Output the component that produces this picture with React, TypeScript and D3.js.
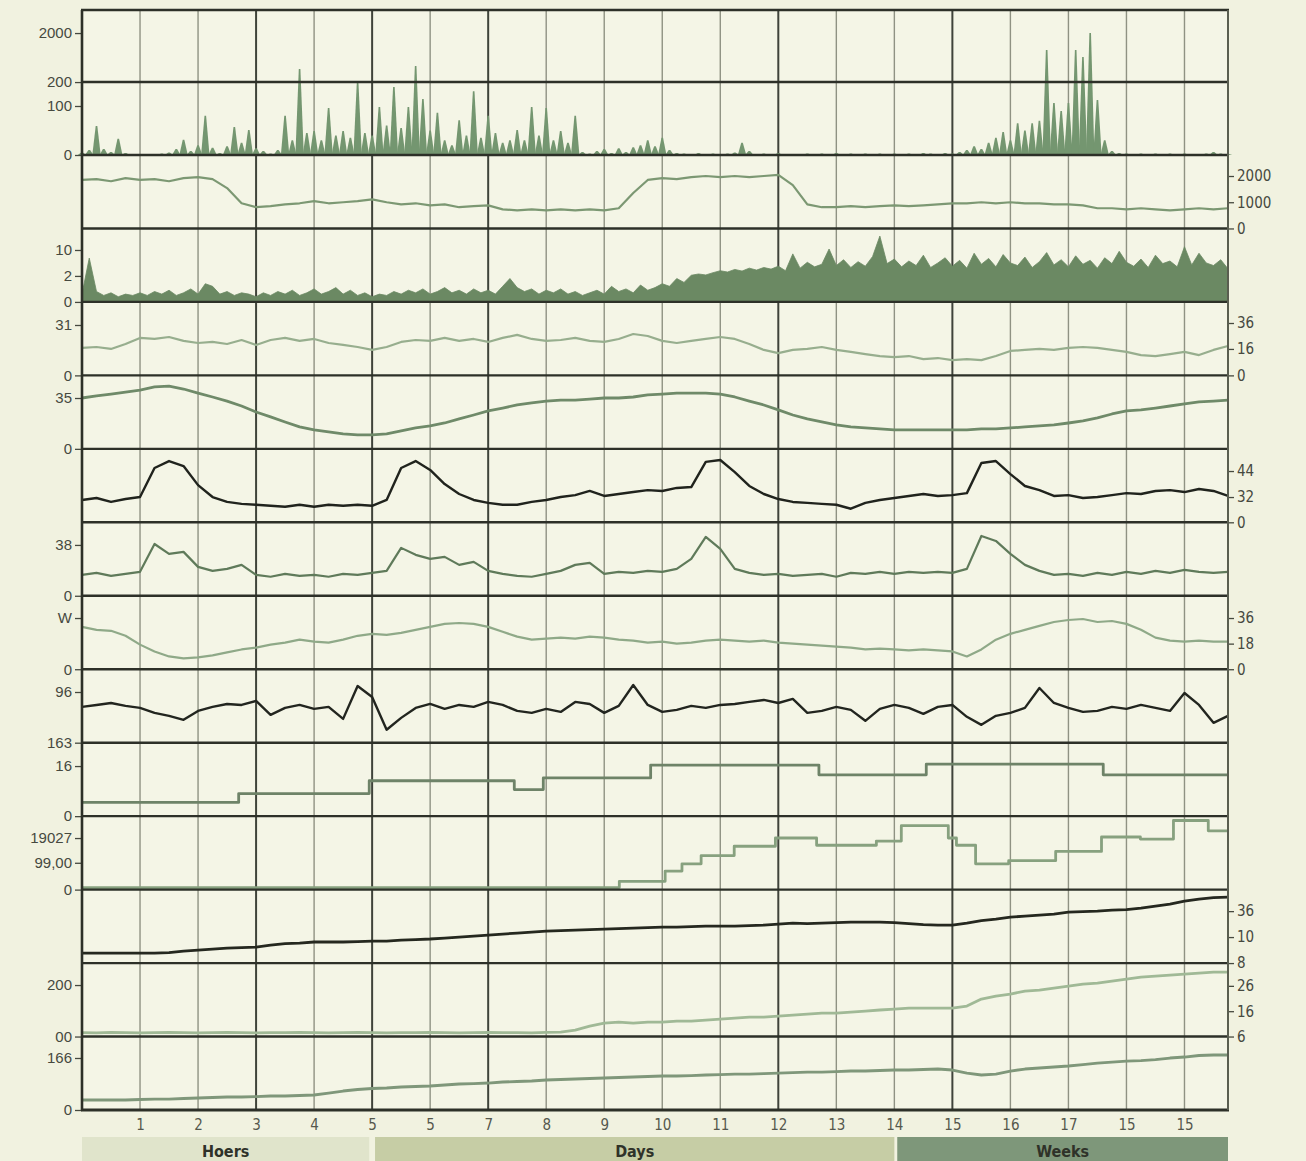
import React, { useEffect, useRef } from 'react';
import * as d3 from 'd3';

// ---- time axis -------------------------------------------------------------
const xTicks = [1, 2, 3, 4, 5, 6, 7, 8, 9, 10, 11, 12, 13, 14, 15, 16, 17, 18, 19];
const xTickLabels = ['1', '2', '3', '4', '5', '5', '7', '8', '9', '10', '11', '12', '13', '14', '15', '16', '17', '15', '15'];
const majorTicks = [3, 5, 7, 12, 15];
const timeEnd = 19.75;

const bandLabels = ['Hoers', 'Days', 'Weeks'];
const bandStarts = [0, 5.05, 14.05];
const bandEnds = [4.95, 14, 19.75];

// sampling intervals of the recorded series
const fineStep = 0.125;
const coarseStep = 0.25;

// ---- series ----------------------------------------------------------------
const burstVolume = [
  5, 10, 59, 12, 6, 33, 4, 2, 2, 1, 2, 3, 5, 12, 31, 8,
  20, 80, 15, 4, 18, 57, 25, 51, 14, 8, 3, 10, 80, 30, 678, 45,
  49, 30, 96, 40, 49, 35, 200, 45, 40, 98, 60, 179, 55, 98, 788, 129,
  50, 86, 30, 20, 71, 40, 162, 35, 80, 45, 25, 30, 51, 30, 98, 40,
  96, 30, 49, 25, 80, 6, 3, 8, 12, 4, 14, 6, 16, 20, 30, 18,
  35, 10, 4, 3, 2, 4, 2, 3, 2, 3, 5, 25, 8, 2, 3, 2,
  4, 2, 1, 2, 3, 2, 3, 2, 4, 2, 3, 2, 3, 2, 3, 2,
  3, 2, 3, 2, 4, 3, 2, 4, 3, 6, 10, 18, 12, 25, 35, 47,
  30, 65, 50, 65, 70, 1375, 112, 90, 112, 1375, 1118, 2000, 125, 30, 8, 4,
  3, 2, 3, 2, 3, 2, 3, 2, 3, 2, 2, 3, 6, 3, 2,
];

const baseLevel = [
  1850, 1880, 1800, 1920, 1850, 1880, 1800, 1920, 1960, 1880,
  1540, 960, 810, 850, 920, 960, 1040, 960, 1000, 1040,
  1110, 1000, 920, 960, 880, 920, 810, 850, 880, 730,
  690, 730, 690, 730, 690, 730, 690, 770, 1350, 1850,
  1920, 1880, 1960, 2000, 1960, 2000, 1960, 2000, 2040, 1650,
  920, 810, 810, 850, 810, 850, 880, 850, 880, 920,
  960, 960, 1000, 960, 1000, 960, 960, 920, 920, 880,
  770, 770, 730, 770, 730, 690, 730, 770, 730, 770,
];

const activity = [
  0.6, 7.5, 0.8, 0.5, 0.7, 0.4, 0.6, 0.5, 0.7, 0.5, 0.8, 0.6, 0.9, 0.5, 0.7, 1.0,
  0.6, 1.4, 1.2, 0.6, 0.8, 0.5, 0.7, 0.6, 0.4, 0.7, 0.5, 0.8, 0.6, 0.9, 0.5, 0.7,
  1.0, 0.6, 0.8, 1.1, 0.6, 0.9, 0.5, 0.7, 0.4, 0.6, 0.5, 0.8, 0.6, 0.9, 0.7, 1.0,
  0.6, 0.8, 1.1, 0.7, 0.9, 0.6, 1.0, 0.7, 0.9, 0.6, 1.2, 1.8, 1.1, 0.8, 1.0, 0.6,
  0.9, 0.7, 1.0, 0.6, 0.8, 0.5, 0.7, 0.9, 0.6, 1.2, 0.8, 1.0, 0.7, 1.3, 0.9, 1.1,
  1.4, 1.2, 1.8, 1.5, 2.2, 2.6, 2.3, 3.0, 3.6, 3.2, 4.0, 3.5, 4.4, 3.8, 4.6, 4.1,
  5.0, 3.6, 8.8, 4.4, 6.2, 4.8, 5.6, 10.3, 5.2, 7.0, 4.6, 6.4, 5.0, 8.0, 14.3, 5.8,
  7.2, 4.8, 6.6, 5.2, 8.4, 4.6, 6.0, 7.6, 5.0, 6.8, 4.4, 9.0, 5.6, 7.4, 4.8, 8.6,
  6.0, 5.2, 7.8, 4.6, 6.4, 9.2, 5.4, 7.0, 4.8, 8.2, 5.6, 6.8, 4.4, 7.6, 5.8, 9.6,
  6.2, 5.0, 7.2, 4.6, 8.4, 5.8, 6.6, 4.8, 11.0, 5.4, 9.0, 6.0, 5.2, 7.0, 4.2,
];

const tempSurface = [
  16.8, 17.5, 16, 19.8, 24.5, 23.7, 25.2, 22.2, 20.6, 21.4,
  19.8, 22.9, 19.1, 22.9, 24.5, 22.2, 23.7, 20.6, 19.1, 17.5,
  15.4, 17.5, 21.4, 22.9, 22.2, 24.5, 22.2, 23.7, 21.4, 24.5,
  26.8, 23.7, 22.2, 22.9, 24.5, 22.2, 21.4, 23.7, 27.5, 26,
  22.2, 20.6, 22.2, 23.7, 25.2, 23.7, 19.8, 15.4, 13.5, 15.4,
  16, 17.5, 15.4, 14.2, 12.9, 11.7, 11.1, 11.7, 9.8, 10.5,
  9.2, 9.8, 9.2, 11.7, 14.8, 15.4, 16, 15.4, 16.8, 17.5,
  16.8, 15.4, 14.2, 12.3, 11.7, 12.9, 14.2, 12.3, 15.4, 18.3,
];

const tempDeep = [
  35, 36.4, 37.7, 39.1, 40.5, 42.6, 43.2, 41.2, 38.4, 35.7,
  32.9, 29.5, 25.4, 22, 18.5, 15.1, 13, 11.7, 10.3, 9.6,
  9.6, 10.3, 12.4, 14.4, 15.8, 17.8, 20.6, 23.3, 26.1, 28.1,
  30.2, 31.6, 32.9, 33.6, 33.6, 34.3, 35, 35, 35.7, 37.1,
  37.7, 38.4, 38.4, 38.4, 37.7, 35.7, 32.9, 30.2, 26.8, 23.3,
  20.6, 18.5, 16.5, 15.1, 14.4, 13.7, 13, 13, 13, 13,
  13, 13, 13.7, 13.7, 14.4, 15.1, 15.8, 16.5, 17.8, 19.2,
  21.3, 24, 26.1, 26.8, 28.1, 29.5, 30.9, 32.3, 32.9, 33.6,
];

const pulseA = [
  28.3, 30.8, 25.8, 29.5, 32, 45.4, 48.6, 46.3, 37.5, 32,
  25.8, 23.4, 22.2, 20.9, 19.7, 22.2, 19.7, 22.2, 20.9, 22.2,
  20.9, 28.3, 45.4, 48.6, 44.5, 38, 33.4, 28.3, 24.6, 22.2,
  22.2, 25.8, 28.3, 32, 32.9, 34.8, 32.5, 33.4, 34.3, 35.2,
  34.8, 36.2, 36.6, 48.2, 49.1, 43.5, 37.1, 33.4, 29.5, 25.8,
  24.6, 23.4, 22.2, 17.2, 24.6, 28.3, 30.8, 32.5, 33.4, 32.5,
  32.9, 33.8, 47.7, 48.6, 42.6, 37.1, 35.2, 32.5, 32.9, 30.8,
  32, 32.9, 33.8, 33.4, 34.8, 35.2, 34.3, 35.7, 34.8, 32.5,
];

const pulseB = [
  15.6, 17.1, 14.9, 16.4, 17.9, 38.7, 31.3, 32.8, 21.6, 18.6,
  20.1, 23.1, 15.6, 14.2, 16.4, 14.9, 15.6, 14.2, 16.4, 15.6,
  17.1, 18.6, 35.8, 30.6, 27.6, 29.1, 23.1, 25.3, 18.6, 16.4,
  14.9, 14.2, 16.4, 18.6, 23.1, 24.6, 16.4, 17.9, 17.1, 18.6,
  17.9, 20.1, 27.6, 44, 35, 20.1, 17.1, 15.6, 16.4, 14.9,
  15.6, 16.4, 14.2, 17.1, 16.4, 17.9, 16.4, 17.9, 17.1, 17.9,
  17.1, 20.1, 44.7, 41, 31.3, 23.1, 18.6, 15.6, 16.4, 14.9,
  17.1, 15.6, 17.9, 16.4, 18.6, 17.1, 19.4, 17.9, 17.1, 17.9,
];

const windLevel = [
  29.8, 27.7, 27, 23.5, 17.3, 12.5, 9, 7.6, 8.3, 9.7,
  11.8, 13.9, 15.2, 17.3, 18.7, 20.8, 19.4, 18.7, 20.8, 23.5,
  24.9, 24.2, 25.6, 27.7, 29.8, 31.9, 32.5, 31.9, 29.8, 26.3,
  22.9, 20.8, 21.5, 22.2, 21.5, 22.9, 22.2, 20.8, 20.1, 18.7,
  19.4, 18, 18.7, 20.1, 20.8, 20.1, 19.4, 20.1, 18.7, 18,
  17.3, 16.6, 15.9, 15.2, 13.9, 14.5, 13.9, 13.2, 13.9, 13.2,
  12.5, 9, 13.9, 20.8, 24.9, 27.7, 30.5, 33.2, 34.6, 35.3,
  33.2, 33.9, 31.9, 27.7, 22.2, 20.1, 19.4, 20.1, 19.4, 19.4,
];

const pressure = [
  115.7, 113.1, 110.5, 114.4, 117, 123.6, 127.5, 132.8, 121, 115.7,
  111.8, 113.1, 107.8, 126.2, 117, 113.1, 118.3, 115.7, 131.5, 88.1,
  102.6, 145.9, 130.2, 117, 111.8, 118.3, 113.1, 115.7, 109.1, 113.1,
  121, 123.6, 118.3, 122.3, 109.1, 111.8, 123.6, 114.4, 86.8, 113.1,
  122.3, 119.6, 114.4, 117, 113.1, 111.8, 109.1, 106.5, 110.5, 105.2,
  123.6, 121, 115.7, 119.6, 134.1, 118.3, 113.1, 117, 124.9, 115.7,
  113.1, 128.8, 139.4, 127.5, 123.6, 117, 90.7, 110.5, 117, 122.3,
  121, 115.7, 118.3, 113.1, 117, 121, 97.3, 113.1, 136.7, 127.5,
];

const stageTimesA = [0, 2.7, 4.95, 7.45, 7.95, 9.8, 12.7, 14.55, 17.6, 19.75];
const stageLevelsA = [4.4, 7.2, 11.3, 8.5, 12.2, 16.3, 13.2, 16.6, 13.2, 13.2];

const stageTimesB = [0, 9.26, 10.05, 10.34, 10.67, 11.24, 11.95, 12.66, 13.69, 14.12, 14.93, 15.07, 15.4, 15.97, 16.78, 17.57, 18.24, 18.81, 19.41, 19.75];
const stageLevelsB = [7.6, 30.5, 68.5, 95.2, 125.7, 160, 190.4, 163.7, 179, 236, 190.4, 163.7, 95.2, 106.6, 141, 194.2, 186.6, 255, 217, 217];

const cumulativeA = [
  8.77, 8.77, 8.77, 8.77, 8.77, 8.77, 8.8, 8.92, 9, 9.08,
  9.15, 9.19, 9.23, 9.38, 9.5, 9.54, 9.62, 9.62, 9.62, 9.65,
  9.69, 9.69, 9.77, 9.81, 9.85, 9.92, 10, 11, 12, 13,
  14, 15, 16, 16.5, 17, 17.5, 18, 18.5, 19, 19.5,
  20, 20, 20.5, 21, 21, 21, 21.5, 22, 23, 24,
  23.5, 24, 24.5, 25, 25, 25, 24.5, 23.5, 22.5, 22,
  22, 24, 26.5, 28, 30, 31, 32, 33, 35, 35.5,
  36, 37, 37.5, 39, 41, 43, 46, 48, 49.5, 50,
];

const cumulativeB = [
  15, 14, 16, 15, 14, 15, 16, 15, 14, 15,
  16, 15, 14, 15, 15, 16, 15, 14, 15, 16,
  15, 14, 15, 15, 16, 15, 14, 15, 16, 15,
  15, 14, 16, 17, 25, 40.8, 52.4, 56.3, 52.4, 56.3,
  56.3, 60.2, 60.2, 64, 68, 71.8, 75.7, 75.7, 79.6, 83.5,
  87.4, 91.3, 91.3, 95.1, 99, 103, 106.8, 110.7, 110.7, 110.7,
  110.7, 118.4, 145.6, 157.3, 165, 176.7, 180.6, 188.3, 196, 203.9,
  207.8, 215.5, 223.3, 231, 235, 238.8, 242.7, 246.6, 250.5, 250.5,
];

const cumulativeC = [
  31.9, 31.9, 31.9, 31.9, 33.5, 35, 35, 36.7, 38.3, 39.9,
  41.5, 41.5, 43, 44.7, 44.7, 46.3, 47.9, 54.2, 60.6, 65.4,
  68.6, 70.2, 73.4, 75, 76.6, 79.8, 83, 84.5, 86.1, 89.3,
  90.9, 92.5, 95.7, 97.3, 98.9, 100.5, 102.1, 103.7, 105.3, 106.9,
  108.5, 108.5, 110, 111.7, 113.2, 114.8, 114.8, 116.4, 118, 119.6,
  121.2, 121.2, 122.8, 124.4, 124.4, 126, 127.6, 127.6, 129.2, 130.8,
  127.6, 118, 111.7, 114.8, 124.4, 130.8, 134, 137.2, 140.4, 145.1,
  149.9, 153.1, 156.3, 157.9, 161.1, 165.9, 169.1, 173.9, 175.5, 175.5,
];

// ---- look --------------------------------------------------------------------
const W = 1306;
const H = 1161;
const PAGE_BG = '#f1f2e0';
const PLOT_BG = '#f4f5e6';
const INK = '#2d3028';
const LABEL = '#46493f';
const FONT = '"Liberation Sans", Arial, sans-serif';
const NARROW = '"Liberation Sans Narrow", "DejaVu Sans Condensed", "Liberation Sans", sans-serif';
const bandColors = ['#e0e4cb', '#c6cda5', '#7e977a'];

const plot = { left: 82, right: 1228, top: 10, firstBottom: 155, bottom: 1110 };

type AxisDef = { values: number[]; labels: string[]; domain?: number[]; fracs?: number[] };
type Panel = {
  kind: 'needles' | 'area' | 'line' | 'step';
  values: number[];
  times?: number[];
  step?: number;
  domain: number[];
  fracs: number[];
  color: string;
  width?: number;
  rules?: number[];
  left?: AxisDef;
  right?: AxisDef;
};

const panels: Panel[] = [
  { kind: 'needles', values: burstVolume, step: fineStep, domain: [0, 100, 200, 2000], fracs: [0, 0.338, 0.503, 0.841], color: '#749670', rules: [200],
    left: { values: [0, 100, 200, 2000], labels: ['0', '100', '200', '2000'] } },
  { kind: 'line', values: baseLevel, step: coarseStep, domain: [0, 2000], fracs: [0, 0.714], color: '#7c9873', width: 2.2,
    right: { values: [0, 1000, 2000], labels: ['0', '1000', '2000'] } },
  { kind: 'area', values: activity, step: fineStep, domain: [0, 2, 10], fracs: [0, 0.354, 0.707], color: '#6b8963',
    left: { values: [0, 2, 10], labels: ['0', '2', '10'] } },
  { kind: 'line', values: tempSurface, step: coarseStep, domain: [0, 16, 36], fracs: [0, 0.36, 0.713], color: '#97ae8e', width: 2.2,
    left: { values: [0, 31], labels: ['0', '31'], domain: [0, 31], fracs: [0, 0.686] },
    right: { values: [0, 16, 36], labels: ['0', '16', '36'] } },
  { kind: 'line', values: tempDeep, step: coarseStep, domain: [0, 35], fracs: [0, 0.692], color: '#6f8a69', width: 2.8,
    left: { values: [0, 35], labels: ['0', '35'] } },
  { kind: 'line', values: pulseA, step: coarseStep, domain: [0, 32, 44], fracs: [0, 0.344, 0.698], color: '#20231d', width: 2.4,
    right: { values: [0, 32, 44], labels: ['0', '32', '44'] } },
  { kind: 'line', values: pulseB, step: coarseStep, domain: [0, 38], fracs: [0, 0.692], color: '#5f7a5a', width: 2.2,
    left: { values: [0, 38], labels: ['0', '38'] } },
  { kind: 'line', values: windLevel, step: coarseStep, domain: [0, 36], fracs: [0, 0.697], color: '#8fa988', width: 2.2,
    left: { values: [0, 36], labels: ['0', 'W'] },
    right: { values: [0, 18, 36], labels: ['0', '18', '36'] } },
  { kind: 'line', values: pressure, step: coarseStep, domain: [163, 96], fracs: [0, 0.69], color: '#22251f', width: 2.4,
    left: { values: [163, 96], labels: ['163', '96'] } },
  { kind: 'step', values: stageLevelsA, times: stageTimesA, domain: [0, 16], fracs: [0, 0.682], color: '#6e8368', width: 2.8,
    left: { values: [0, 16], labels: ['0', '16'] } },
  { kind: 'step', values: stageLevelsB, times: stageTimesB, domain: [0, 190.27], fracs: [0, 0.702], color: '#87a17f', width: 2.8,
    left: { values: [0, 99, 190.27], labels: ['0', '99,00', '19027'] } },
  { kind: 'line', values: cumulativeA, step: coarseStep, domain: [8, 10, 36], fracs: [0, 0.354, 0.707], color: '#25281f', width: 2.8,
    right: { values: [8, 10, 36], labels: ['8', '10', '36'] } },
  { kind: 'line', values: cumulativeB, step: coarseStep, domain: [0, 200], fracs: [0, 0.701], color: '#a0b996', width: 2.8,
    left: { values: [0, 200], labels: ['00', '200'] },
    right: { values: [6, 16, 26], labels: ['6', '16', '26'], domain: [6, 26], fracs: [0, 0.69] } },
  { kind: 'line', values: cumulativeC, step: coarseStep, domain: [0, 166], fracs: [0, 0.708], color: '#7f977a', width: 2.8,
    left: { values: [0, 166], labels: ['0', '166'] } },
];

const rowH = (plot.bottom - plot.firstBottom) / (panels.length - 1);
const panelBounds = panels.map((_, i) =>
  i === 0
    ? { top: plot.top, bottom: plot.firstBottom }
    : { top: plot.firstBottom + (i - 1) * rowH, bottom: plot.firstBottom + i * rowH }
);

const App = () => {
  const ref = useRef<SVGSVGElement>(null);

  useEffect(() => {
    document.body.style.margin = '0';
    document.body.style.background = PAGE_BG;
    const svg = d3.select(ref.current);
    svg.selectAll('*').remove();

    const x = d3.scaleLinear().domain([0, timeEnd]).range([plot.left, plot.right]);

    svg.append('rect').attr('width', W).attr('height', H).attr('fill', PAGE_BG);
    svg.append('rect')
      .attr('x', plot.left).attr('y', plot.top)
      .attr('width', plot.right - plot.left).attr('height', plot.bottom - plot.top)
      .attr('fill', PLOT_BG);

    // vertical grid
    svg.append('g').selectAll('line').data(xTicks).join('line')
      .attr('x1', d => x(d)).attr('x2', d => x(d))
      .attr('y1', plot.top).attr('y2', plot.bottom)
      .attr('stroke', d => (majorTicks.includes(d) ? '#3f433a' : '#8f9283'))
      .attr('stroke-width', d => (majorTicks.includes(d) ? 2 : 1.4));

    const makeScale = (dom: number[], fr: number[], top: number, bottom: number) =>
      d3.scaleLinear().domain(dom).range(fr.map(f => bottom - f * (bottom - top)));

    panels.forEach((p, i) => {
      const { top, bottom } = panelBounds[i];
      const y = makeScale(p.domain, p.fracs, top, bottom);
      const pts: [number, number][] = p.times
        ? p.times.map((t, j) => [t, p.values[j]])
        : p.values.map((v, j) => [j * (p.step as number), v]);
      const g = svg.append('g');

      if (p.kind === 'needles') {
        // each sample as a thin spike standing on the baseline
        const half = (x(p.step as number) - x(0)) * 0.58;
        g.selectAll('path').data(pts).join('path')
          .attr('d', d => {
            const pth = d3.path();
            pth.moveTo(x(d[0]) - half, bottom);
            pth.lineTo(x(d[0]) - 0.8, y(d[1]));
            pth.lineTo(x(d[0]) + 0.8, y(d[1]));
            pth.lineTo(x(d[0]) + half, bottom);
            pth.closePath();
            return pth.toString();
          })
          .attr('fill', p.color);
      } else if (p.kind === 'area') {
        const area = d3.area<[number, number]>()
          .x(d => x(d[0])).y0(bottom).y1(d => y(d[1]));
        g.append('path').attr('d', area(pts)).attr('fill', p.color).attr('stroke', p.color).attr('stroke-width', 0.8);
      } else {
        const line = d3.line<[number, number]>()
          .x(d => x(d[0])).y(d => y(d[1]))
          .curve(p.kind === 'step' ? d3.curveStepAfter : d3.curveLinear);
        g.append('path').attr('d', line(pts))
          .attr('fill', 'none').attr('stroke', p.color)
          .attr('stroke-width', p.width || 2).attr('stroke-linejoin', 'round');
      }

      (p.rules || []).forEach(r => {
        g.append('line').attr('x1', plot.left).attr('x2', plot.right)
          .attr('y1', y(r)).attr('y2', y(r))
          .attr('stroke', INK).attr('stroke-width', 2.4);
      });

      if (p.left) {
        const a = p.left;
        const ys = a.domain ? makeScale(a.domain, a.fracs as number[], top, bottom) : y;
        const ax = d3.axisLeft(ys).tickValues(a.values)
          .tickFormat((_d, k) => a.labels[k]).tickSize(7).tickPadding(3);
        const ag = svg.append('g').attr('transform', `translate(${plot.left},0)`).call(ax);
        ag.select('.domain').remove();
        ag.attr('font-family', FONT).attr('font-size', 15).attr('color', LABEL);
        ag.selectAll('line').attr('stroke-width', 1.3);
      }
      if (p.right) {
        const a = p.right;
        const ys = a.domain ? makeScale(a.domain, a.fracs as number[], top, bottom) : y;
        const ax = d3.axisRight(ys).tickValues(a.values)
          .tickFormat((_d, k) => a.labels[k]).tickSize(6).tickPadding(3);
        const ag = svg.append('g').attr('transform', `translate(${plot.right},0)`).call(ax);
        ag.select('.domain').remove();
        ag.attr('font-family', NARROW).attr('font-size', 15).attr('color', LABEL);
        ag.selectAll('line').attr('stroke-width', 1.3);
      }
    });

    // panel separators
    const seps = [plot.top, ...panelBounds.map(b => b.bottom)];
    svg.append('g').selectAll('line').data(seps).join('line')
      .attr('x1', plot.left - 1).attr('x2', plot.right + 1)
      .attr('y1', d => d).attr('y2', d => d)
      .attr('stroke', INK).attr('stroke-width', (d, k) => (k === seps.length - 1 ? 3 : 2.4));

    // frame sides
    svg.append('line').attr('x1', plot.left).attr('x2', plot.left)
      .attr('y1', plot.top).attr('y2', plot.bottom).attr('stroke', INK).attr('stroke-width', 2.6);
    svg.append('line').attr('x1', plot.right).attr('x2', plot.right)
      .attr('y1', plot.top).attr('y2', plot.bottom).attr('stroke', '#5a5e50').attr('stroke-width', 2);

    // bottom time axis
    const xa = d3.axisBottom(x).tickValues(xTicks)
      .tickFormat((_d, k) => xTickLabels[k]).tickSize(0).tickPadding(9);
    const xg = svg.append('g').attr('transform', `translate(0,${plot.bottom})`).call(xa);
    xg.select('.domain').remove();
    xg.attr('font-family', NARROW).attr('font-size', 15).attr('color', '#55584d');

    // time-scale bands
    const bg = svg.append('g');
    bandLabels.forEach((lab, k) => {
      bg.append('rect')
        .attr('x', x(bandStarts[k])).attr('y', 1137)
        .attr('width', x(bandEnds[k]) - x(bandStarts[k])).attr('height', H - 1137)
        .attr('fill', bandColors[k]);
      bg.append('text')
        .attr('x', (x(bandStarts[k]) + x(bandEnds[k])) / 2).attr('y', 1151)
        .attr('text-anchor', 'middle').attr('dominant-baseline', 'central')
        .attr('font-family', NARROW).attr('font-size', 16).attr('font-weight', 'bold')
        .attr('fill', '#2f3229').text(lab);
    });
  }, []);

  return <svg ref={ref} width={W} height={H} style={{ display: 'block' }} />;
};

export default App;
